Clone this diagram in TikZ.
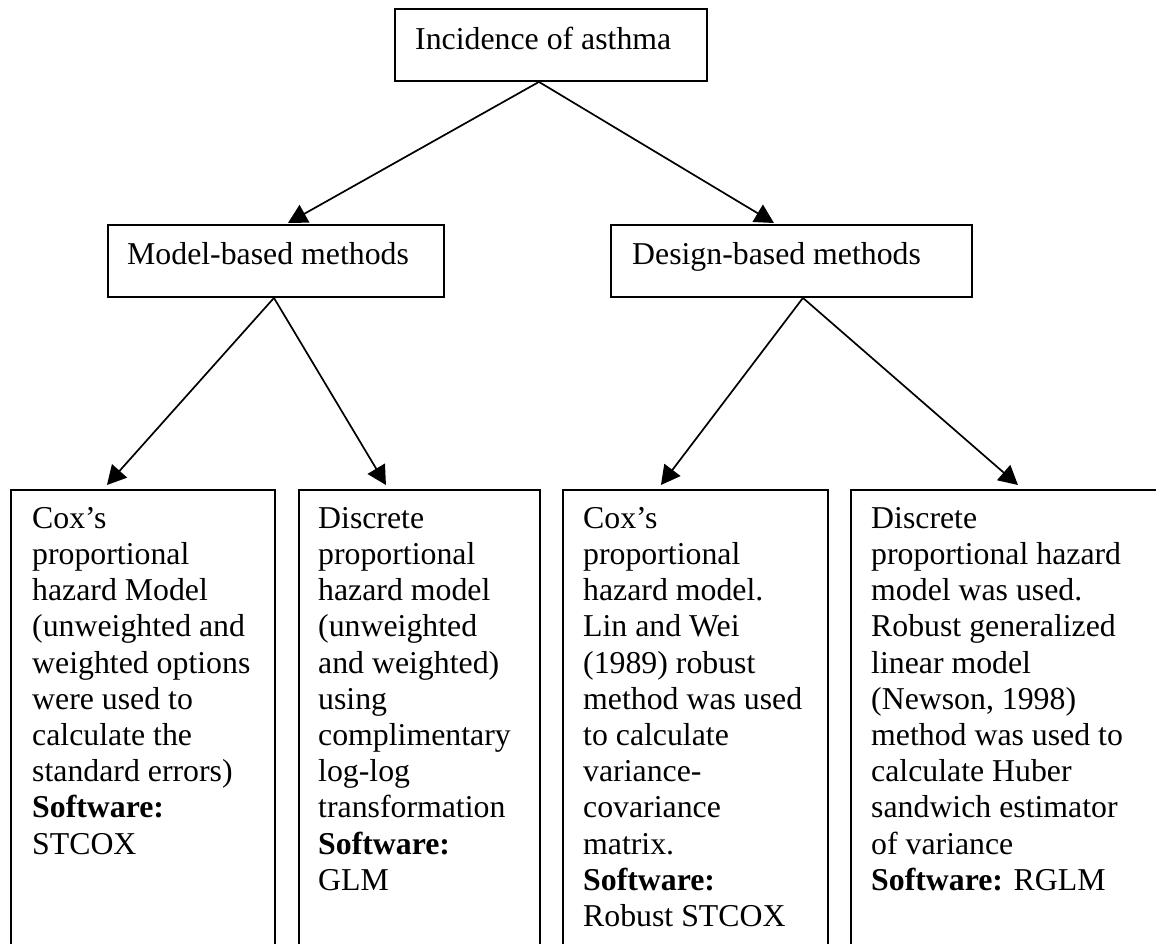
\documentclass[tikz,border=0pt]{standalone}
\usepackage{fontspec}
\setmainfont{Liberation Serif}
\usetikzlibrary{arrows.meta}
\begin{document}
\begin{tikzpicture}[x=1pt,y=-1pt,
  box/.style={draw, line width=1.9pt, rectangle, inner sep=0pt, anchor=north west},
  txt/.style={anchor=north west, inner sep=0pt, align=left,
    font=\fontsize{31.8pt}{36.2pt}\selectfont},
  link/.style={line width=1.7pt, -{Triangle[length=19pt,width=20pt]}}]
\useasboundingbox (0,0) rectangle (1156,943);
\clip (0,0) rectangle (1156,943);

% header box
\node[box, minimum width=312pt, minimum height=72pt] (top) at (394,8) {};
\node[txt] (topt) at ([shift={(21,19)}]top.north west) {Incidence of asthma};

% method boxes
\node[box, minimum width=336pt, minimum height=72pt] (model) at (107,224) {};
\node[txt] (modelt) at ([shift={(20,18)}]model.north west) {Model-based methods};
\node[box, minimum width=361pt, minimum height=72pt] (design) at (610,224) {};
\node[txt] (designt) at ([shift={(22,18)}]design.north west) {Design-based methods};

% detail boxes, running past the lower and right edges
\node[box, minimum width=264pt, minimum height=480pt] (b1) at (10,489) {};
\node[box, minimum width=241pt, minimum height=480pt] (b2) at (298,489) {};
\node[box, minimum width=265pt, minimum height=480pt] (b3) at (562,489) {};
\node[box, minimum width=330pt, minimum height=480pt] (b4) at (850,489) {};

\node[txt] (b1t) at ([shift={(22,18)}]b1.north west)
  {Cox’s\\proportional\\hazard Model\\(unweighted and\\weighted options\\were used to\\calculate the\\standard errors)\\\textbf{Software:}\\STCOX};
\node[txt] (b2t) at ([shift={(20,18)}]b2.north west)
  {Discrete\\proportional\\hazard model\\(unweighted\\and weighted)\\using\\complimentary\\log-log\\transformation\\\textbf{Software:}\\GLM};
\node[txt] (b3t) at ([shift={(21,18)}]b3.north west)
  {Cox’s\\proportional\\hazard model.\\Lin and Wei\\(1989) robust\\method was used\\to calculate\\variance-\\covariance\\matrix.\\\textbf{Software:}\\Robust STCOX};
\node[txt] (b4t) at ([shift={(21,18)}]b4.north west)
  {Discrete\\proportional hazard\\model was used.\\Robust generalized\\linear model\\(Newson, 1998)\\method was used to\\calculate Huber\\sandwich estimator\\of variance\\\textbf{Software:} RGLM};

% connectors
\draw[link] ([xshift=-12pt]top.south) -- ([xshift=12pt,yshift=1pt]model.north);
\draw[link] ([xshift=-12pt]top.south) -- ([xshift=-17.5pt,yshift=1pt]design.north);
\draw[link] ([xshift=-2pt]model.south) -- ([xshift=-36pt,yshift=4pt]b1.north);
\draw[link] ([xshift=-2pt]model.south) -- ([xshift=-33.5pt,yshift=4pt]b2.north);
\draw[link] ([xshift=11.5pt]design.south) -- ([xshift=-34.5pt,yshift=4pt]b3.north);
\draw[link] ([xshift=11.5pt]design.south) -- ([xshift=2pt,yshift=4pt]b4.north);
\end{tikzpicture}
\end{document}
